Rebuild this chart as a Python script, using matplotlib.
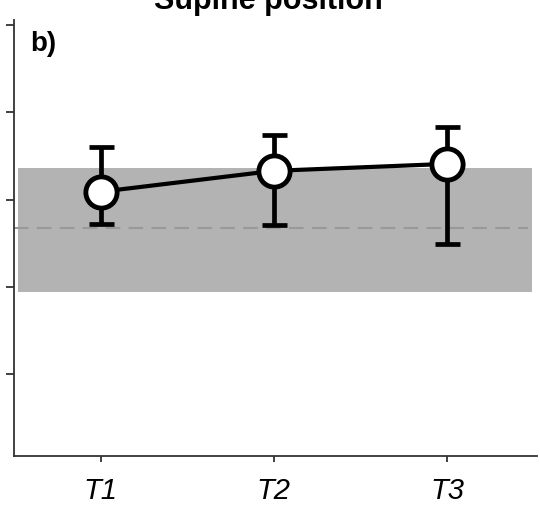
import matplotlib.pyplot as plt
import numpy as np

plt.rcParams['font.family'] = ['Liberation Sans', 'DejaVu Sans']

# measurement occasions and group means with asymmetric error limits
sessions = ['T1', 'T2', 'T3']
means = [3.09, 3.33, 3.41]
upper = [3.60, 3.74, 3.83]
lower = [2.72, 2.71, 2.49]

# reference range (shaded) and its mean (dashed)
ref_low = 1.94
ref_high = 3.36
ref_mean = 2.68

x = np.arange(1, len(sessions) + 1)
err = [np.array(means) - np.array(lower), np.array(upper) - np.array(means)]

fig = plt.figure(figsize=(5.4, 5.08), dpi=100)
ax = fig.add_axes([14/540, 1 - 456/508, 523/540, 436/508])

ax.fill_between([0.525, 3.49], ref_low, ref_high, color='#b3b3b3', lw=0, zorder=1)
ax.plot([0.5, 3.47], [ref_mean, ref_mean], color='#999999', lw=1.5,
        dashes=(7, 4), zorder=2)

ax.errorbar(x, means, yerr=err, fmt='none', ecolor='black', elinewidth=3.4,
            capsize=9, capthick=3.4, zorder=3)
ax.plot(x, means, color='black', lw=3.0, marker='o', markersize=22.5,
        markerfacecolor='white', markeredgecolor='black', markeredgewidth=3.5,
        zorder=4)

ax.set_xlim(0.5, 3.52)
ax.set_ylim(0.06, 5.06)
ax.set_yticks([1, 2, 3, 4, 5])
ax.set_yticklabels([])
ax.set_xticks(x)
ax.set_xticklabels(sessions, fontsize=21, fontstyle='italic')

for side in ['top', 'right']:
    ax.spines[side].set_visible(False)
for side in ['left', 'bottom']:
    ax.spines[side].set_linewidth(1.3)
    ax.spines[side].set_color('#333333')
ax.tick_params(axis='y', length=6, width=1.3, color='#333333')
ax.tick_params(axis='x', length=4, width=1.3, color='#333333', pad=11)

ax.text(0.031, 0.975, 'b)', transform=ax.transAxes, fontsize=20,
        fontweight='bold', va='top', ha='left')
fig.text(268/540, 1 - 9/508, 'Supine position', fontsize=22, fontweight='bold',
         ha='center', va='baseline')

fig.savefig('out.png', dpi=100)
